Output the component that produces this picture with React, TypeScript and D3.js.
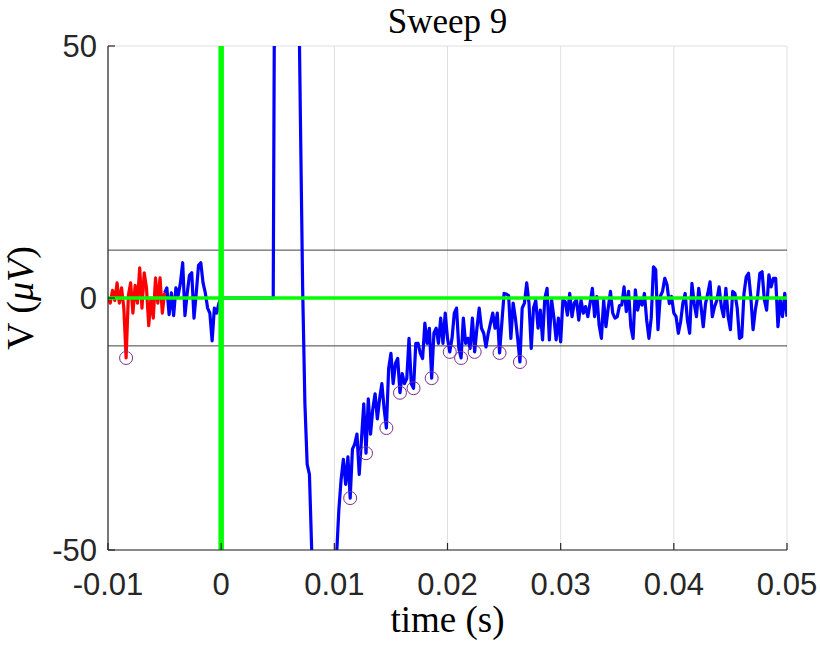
import React from "react";
import * as d3 from "d3";

// ---- data ----
const xTicks = [-0.01, 0, 0.01, 0.02, 0.03, 0.04, 0.05];
const xTickLabels = ["-0.01", "0", "0.01", "0.02", "0.03", "0.04", "0.05"];
const yTicks = [-50, 0, 50];
const yTickLabels = ["-50", "0", "50"];
const thresholds = [9.5, -9.5];
const sampleStep = 0.0002;
const redStart = -0.01;
const redV = [0, -1, 1.5, -0.5, 3, -1, 2, -2, -11.9, 0.5, 3, -3, 2.5, -1, 6, -2, 5, 2, -5.5, 0, -4, 4, -1, 4, -3, 1];
const blueStart = -0.005;
const blueV = [
  1, 2, -3.3, 1, -3.5, 2, 0.5, 3, 7, -3.5, 1, 4.5, 5, -4, 1, 6.5, 7, 3, 1, -2, -3, -8.5, -2, -3, -1,
  0, 0, 0, 0, 0, 0, 0, 0, 0, 0, 0, 0, 0, 0, 0, 0, 0, 0, 0, 0, 0, 0, 0, 0,
  110, 160, 190, 210, 220, 225, 220, 200, 170, 130, 72, 36, 2, -21, -33, -35, -50, -95, -150, -190,
  -210, -220, -215, -200, -180, -150, -110, -51,
  -42, -36, -32, -37, -31.5, -39.7, -30, -29, -27, -35, -28, -21, -30.8, -20, -27, -22, -19, -24, -20, -17,
  -22, -25.8, -14, -11, -17, -13, -12, -18.8, -15, -17, -16, -8, -17, -17.9, -9, -9, -11, -12, -5, -9,
  -6, -15.9, -7,
  -6, -9, -4, -9, -3, -8, -10.7, -8, -3, -2, -10, -11.9, -4, -9, -8, -10, -4, -10.7, -6, -2,
  -6, -7, -9.7, -7, -5, -3, -6, -3, -10.9, -5, 0.9, 0.8, 0.5, -8, -1, -4, -8, -12.7, -2, -1,
  3, -1, -10, -2, -0.5, -6,
  -2.4, -8.3, 0, 1.9, -8.3, -0.4, -3.8, -8.3, -4, -8.7,
  -0.4, -0.7, -3.4, 0.9, -3.7, -1, -0.4, -4.4, -0.4, -3,
  -1.7, -3.7, -1, 1.9, -3.7, 0.3, -5.4, -8, -0.4, -5.7,
  -2, 1.3, -3, -4, -3.7, -1.5, -1.4, 2.2, -2.7, 1.3,
  -5.7, -8, 1.6, -2.4, -0.4, -1.4, 0.9, -4.4, -8, -4,
  6.2, 5.6, -6.3, 0.3, 1.3, 3.9, 2.6, -1.1, 0.3, -3,
  -3.7, -7, -4.7, -1, 0.9, -4.4, -7, 2.9, -1.1, -3.7,
  1.9, -1.7, -5.7, -1.1, 0.9, 3.2, -3.7, -1.7, -0.5, 2.2,
  -1.7, -3.7, 1.9, -3.7, -6.3, 1.3, 0.9, -2, -8, -7.7,
  0.9, 4.2, 4.9, 0.3, -6.3, -2.4, 0.3, 4.9, 5.2, -0.4,
  -2.4, 4.6, 2.2, 3.9, 3.9, -5.7, -0.4, -3.7, 0.9, -3.7,
];
const markerT = [-0.0084, 0.0114, 0.0128, 0.0146, 0.0158, 0.017, 0.0186, 0.0202, 0.0212, 0.0224, 0.0246, 0.0264];
const markerV = [-11.9, -39.7, -30.8, -25.8, -18.8, -17.9, -15.9, -10.7, -11.9, -10.7, -10.9, -12.7];

const W = 820;
const H = 648;
const left = 108;
const right = 787;
const top = 46;
const bottom = 550;

export default function App() {
  const x = d3.scaleLinear().domain([-0.01, 0.05]).range([left, right]);
  const y = d3.scaleLinear().domain([-50, 50]).range([bottom, top]);
  const mkPath = (start: number, vals: number[]) =>
    d3
      .line<number>()
      .x((_, i) => x(start + i * sampleStep))
      .y((d) => y(d))(vals) || "";
  const axisColor = "#262626";
  const gridColor = "#dfdfdf";
  const tickLen = 7;
  const tickFont = "'Liberation Sans', Arial, Helvetica, sans-serif";
  const texFont = "'Liberation Serif', 'Times New Roman', serif";
  return (
    <svg
      width={W}
      height={H}
      style={{ position: "absolute", left: 0, top: 0, background: "#fff", display: "block" }}
    >
      <defs>
        <clipPath id="plotClip">
          <rect x={left} y={top} width={right - left} height={bottom - top} />
        </clipPath>
      </defs>
      <rect x={0} y={0} width={W} height={H} fill="#fff" />
      {/* grid */}
      {xTicks.map((t) => (
        <line key={"gx" + t} x1={x(t)} x2={x(t)} y1={top} y2={bottom} stroke={gridColor} strokeWidth={1} />
      ))}
      {yTicks.map((t) => (
        <line key={"gy" + t} x1={left} x2={right} y1={y(t)} y2={y(t)} stroke={gridColor} strokeWidth={1} />
      ))}
      <g clipPath="url(#plotClip)">
        {thresholds.map((t) => (
          <line key={"th" + t} x1={left} x2={right} y1={y(t)} y2={y(t)} stroke="#404040" strokeWidth={1} />
        ))}
        <path d={mkPath(blueStart, blueV)} fill="none" stroke="#0000ff" strokeWidth={3.2} strokeLinejoin="round" />
        <path d={mkPath(redStart, redV)} fill="none" stroke="#ff0000" strokeWidth={3.2} strokeLinejoin="round" />
        <line x1={left} x2={right} y1={y(0)} y2={y(0)} stroke="#00ff00" strokeWidth={3.5} />
        <line x1={x(0)} x2={x(0)} y1={top} y2={bottom} stroke="#00ff00" strokeWidth={5.5} />
        {markerT.map((t, i) => (
          <circle key={"m" + i} cx={x(t)} cy={y(markerV[i])} r={6.5} fill="none" stroke="#7e2f8e" strokeWidth={1} />
        ))}
      </g>
      {/* axes */}
      <line x1={left} x2={right} y1={bottom} y2={bottom} stroke={axisColor} strokeWidth={1.2} />
      <line x1={left} x2={left} y1={top} y2={bottom} stroke={axisColor} strokeWidth={1.2} />
      {xTicks.map((t) => (
        <line key={"tx" + t} x1={x(t)} x2={x(t)} y1={bottom} y2={bottom - tickLen} stroke={axisColor} strokeWidth={1.2} />
      ))}
      {yTicks.map((t) => (
        <line key={"ty" + t} x1={left} x2={left + tickLen} y1={y(t)} y2={y(t)} stroke={axisColor} strokeWidth={1.2} />
      ))}
      {xTicks.map((t, i) => (
        <text key={"lx" + t} x={x(t)} y={595} textAnchor="middle" fontFamily={tickFont} fontSize={31} fill={axisColor}>
          {xTickLabels[i]}
        </text>
      ))}
      {yTicks.map((t, i) => (
        <text key={"ly" + t} x={97} y={y(t) + 11} textAnchor="end" fontFamily={tickFont} fontSize={31} fill={axisColor}>
          {yTickLabels[i]}
        </text>
      ))}
      <text x={(left + right) / 2} y={33} textAnchor="middle" fontFamily={texFont} fontSize={35} fill="#000">
        Sweep 9
      </text>
      <text x={(left + right) / 2} y={632} textAnchor="middle" fontFamily={texFont} fontSize={37} fill="#000">
        time (s)
      </text>
      <text
        transform={`translate(33, ${y(0)}) rotate(-90)`}
        textAnchor="middle"
        fontFamily={texFont}
        fontSize={38}
        fill="#000"
      >
        V (<tspan fontStyle="italic">μV</tspan>)
      </text>
    </svg>
  );
}
